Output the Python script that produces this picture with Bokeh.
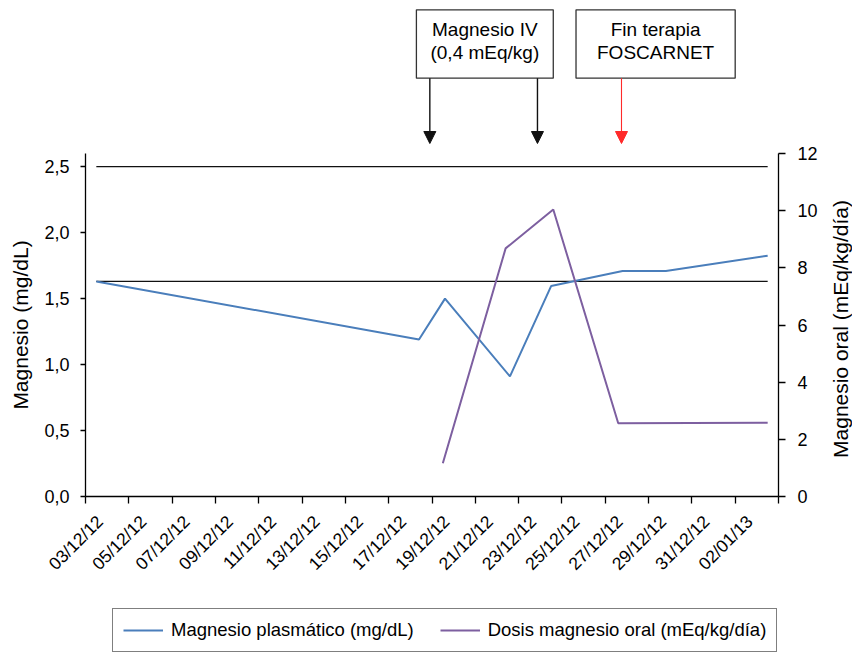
import math
from bokeh.plotting import figure
from bokeh.layouts import column, row
from bokeh.models import (Range1d, LinearAxis, FixedTicker, Legend, LegendItem,
                          Arrow, NormalHead)
from bokeh.core.properties import value
from bokeh.embed import file_html
from bokeh.resources import INLINE

FONT = "Liberation Sans"
W = 852

# ---- data (x = days since 03/12/12) ----
date_labels = ["03/12/12", "05/12/12", "07/12/12", "09/12/12", "11/12/12", "13/12/12",
               "15/12/12", "17/12/12", "19/12/12", "21/12/12", "23/12/12", "25/12/12",
               "27/12/12", "29/12/12", "31/12/12", "02/01/13"]
plasma_days = [0, 14.9, 16.1, 19.1, 21.0, 24.3, 26.3, 31]
plasma_mg = [1.63, 1.19, 1.50, 0.91, 1.595, 1.71, 1.71, 1.825]
oral_days = [16, 18.9, 21.1, 24.1, 31]
oral_dose = [1.16, 8.68, 10.04, 2.56, 2.58]
ref_days = [0, 31]
ref_upper = [2.5, 2.5]
ref_lower = [1.63, 1.63]
left_ticks = [0.0, 0.5, 1.0, 1.5, 2.0, 2.5]
left_tick_labels = ["0,0", "0,5", "1,0", "1,5", "2,0", "2,5"]
right_ticks = [0, 2, 4, 6, 8, 10, 12]
right_title = ["Magnesio oral (mEq/kg/día)"]
# annotation boxes (x in days)
box_left = [14.78, 22.15]
box_right = [21.1, 29.5]
box_line1 = ["Magnesio IV", "Fin terapia"]
box_line2 = ["(0,4 mEq/kg)", "FOSCARNET"]
arrow_days = [15.40, 20.37, 24.25]
arrow_colors = ["#111111", "#111111", "#ff2a2a"]

BLUE = "#4a7ebb"
PURPLE = "#7d5fa0"
x_range = Range1d(-0.5, 31.5)
FRAME_L, FRAME_R, FRAME_T, FRAME_B = 85, 778, 153, 496

# ---------------- top annotation strip ----------------
TOP_H = 144
top = figure(width=W, height=TOP_H, output_backend="svg", toolbar_location=None,
             x_range=x_range, y_range=Range1d(TOP_H, 0),
             x_axis_type=None, y_axis_type=None,
             min_border_left=FRAME_L, min_border_right=W - FRAME_R, min_border_top=0,
             min_border_bottom=0)
top.outline_line_color = None
top.grid.visible = False
top.background_fill_color = "white"
top.border_fill_color = "white"

box_top_px = [9.3, 9.3]
box_bot_px = [77.7, 77.7]
top.quad(left=box_left, right=box_right, top=box_top_px, bottom=box_bot_px,
         fill_color="white", line_color="#333333", line_width=1.3)
centers = [(l + r) / 2 for l, r in zip(box_left, box_right)]
top.text(x=centers, y=[29, 29], text=box_line1, text_align="center",
         text_baseline="middle", text_font=value(FONT), text_font_size="19px",
         text_color="black")
top.text(x=centers, y=[51.5, 51.5], text=box_line2, text_align="center",
         text_baseline="middle", text_font=value(FONT), text_font_size="19px",
         text_color="black")
for xd, col in zip(arrow_days, arrow_colors):
    top.add_layout(Arrow(end=NormalHead(size=12, fill_color=col, line_color=col),
                         x_start=xd, y_start=77.7, x_end=xd, y_end=TOP_H - 1,
                         line_color=col, line_width=1.4 if col != "#ff2a2a" else 1.1))

# ---------------- main chart ----------------
LEG_H = 53
MAIN_H = 653 - TOP_H - LEG_H
RSTRIP_W = 26
MAIN_W = W - RSTRIP_W
p = figure(width=MAIN_W, height=MAIN_H, output_backend="svg", toolbar_location=None,
           x_range=x_range, y_range=Range1d(0, 2.6),
           min_border_left=FRAME_L, min_border_right=MAIN_W - FRAME_R,
           min_border_top=FRAME_T - TOP_H,
           min_border_bottom=(653 - LEG_H) - FRAME_B)
p.outline_line_color = None
p.xgrid.visible = False
p.ygrid.visible = False
p.background_fill_color = "white"
p.border_fill_color = "white"
p.extra_y_ranges = {"oral": Range1d(0, 12)}

p.line(ref_days, ref_upper, line_color="#111111", line_width=1.3)
p.line(ref_days, ref_lower, line_color="#111111", line_width=1.3)
p.line(plasma_days, plasma_mg, line_color=BLUE, line_width=2)
p.line(oral_days, oral_dose, line_color=PURPLE, line_width=2, y_range_name="oral")

xa = p.xaxis[0]
label_pos = [0.17 + 2 * k for k in range(len(date_labels))]
bound_pos = [-0.5 + 2 * k for k in range(len(date_labels) + 1)]
xa.ticker = FixedTicker(ticks=label_pos, minor_ticks=bound_pos)
xa.major_label_overrides = {pos: lab for pos, lab in zip(label_pos, date_labels)}
xa.major_tick_line_color = None
xa.minor_tick_line_color = "black"
xa.minor_tick_line_width = 1.3
xa.minor_tick_out = 7
xa.minor_tick_in = 0
xa.major_label_orientation = math.pi / 4
xa.major_label_standoff = 15
xa.major_label_text_font = FONT
xa.major_label_text_font_size = "17.5px"
xa.major_label_text_color = "black"
xa.axis_line_width = 1.3
xa.axis_line_color = "black"

ya = p.yaxis[0]
ya.ticker = FixedTicker(ticks=left_ticks)
ya.major_label_overrides = {t: s for t, s in zip(left_ticks, left_tick_labels)}
ya.minor_tick_line_color = None
ya.major_tick_out = 5
ya.major_tick_in = 0
ya.major_tick_line_width = 1.3
ya.axis_line_width = 1.3
ya.axis_line_color = "black"
ya.major_label_standoff = 11
ya.major_label_text_font = FONT
ya.major_label_text_font_size = "18px"
ya.major_label_text_color = "black"
ya.axis_label = "Magnesio (mg/dL)"
ya.axis_label_text_font = FONT
ya.axis_label_text_font_size = "21px"
ya.axis_label_text_font_style = "normal"
ya.axis_label_text_color = "black"
ya.axis_label_standoff = 9

ra = LinearAxis(y_range_name="oral", ticker=FixedTicker(ticks=right_ticks))
ra.minor_tick_line_color = None
ra.major_tick_out = 7
ra.major_tick_in = 0
ra.major_tick_line_width = 1.3
ra.axis_line_width = 1.3
ra.axis_line_color = "black"
ra.major_label_standoff = 12
ra.major_label_text_font = FONT
ra.major_label_text_font_size = "18px"
ra.major_label_text_color = "black"
p.add_layout(ra, "right")

# ---------------- right title strip (reads bottom-to-top) ----------------
# its frame is aligned with the main frame, so use screen-like y coordinates
rs = figure(width=RSTRIP_W, height=MAIN_H, output_backend="svg", toolbar_location=None,
            x_range=Range1d(0, RSTRIP_W), y_range=Range1d(FRAME_B, FRAME_T),
            x_axis_type=None, y_axis_type=None,
            min_border_left=0, min_border_right=0, min_border_top=0, min_border_bottom=0)
rs.outline_line_color = None
rs.grid.visible = False
rs.background_fill_color = "white"
rs.border_fill_color = "white"
rs.text(x=[14], y=[(FRAME_T + FRAME_B) / 2 + 4], text=right_title,
        angle=math.pi / 2, text_align="center", text_baseline="middle",
        text_font=value(FONT), text_font_size="21px", text_color="black")

# ---------------- legend strip ----------------
leg = figure(width=W, height=LEG_H, output_backend="svg", toolbar_location=None,
             x_range=Range1d(0, 1), y_range=Range1d(0, 1),
             x_axis_type=None, y_axis_type=None,
             min_border_left=FRAME_L, min_border_right=W - FRAME_R, min_border_top=0,
             min_border_bottom=0)
leg.outline_line_color = None
leg.grid.visible = False
leg.background_fill_color = "white"
leg.border_fill_color = "white"
lr_plasma = leg.line(plasma_days, plasma_mg, line_color=BLUE, line_width=2, visible=False)
lr_oral = leg.line(oral_days, oral_dose, line_color=PURPLE, line_width=2, visible=False)

legend = Legend(items=[LegendItem(label="Magnesio plasmático (mg/dL)", renderers=[lr_plasma]),
                       LegendItem(label="Dosis magnesio oral (mEq/kg/día)", renderers=[lr_oral])],
                orientation="horizontal", location=(112 - FRAME_L, 1))
legend.label_text_font = FONT
legend.label_text_font_size = "18.5px"
legend.label_text_color = "black"
legend.glyph_width = 40
legend.glyph_height = 22
legend.label_height = 22
legend.padding = 10
legend.spacing = 26
legend.label_standoff = 8
legend.margin = 0
legend.border_line_color = "black"
legend.border_line_width = 1.2
legend.background_fill_alpha = 1.0
legend.inactive_fill_alpha = 0.0
leg.add_layout(legend, "center")

layout = column(top, row(p, rs, spacing=0), leg, spacing=0)
open("out.html", "w").write(file_html(layout, INLINE))
